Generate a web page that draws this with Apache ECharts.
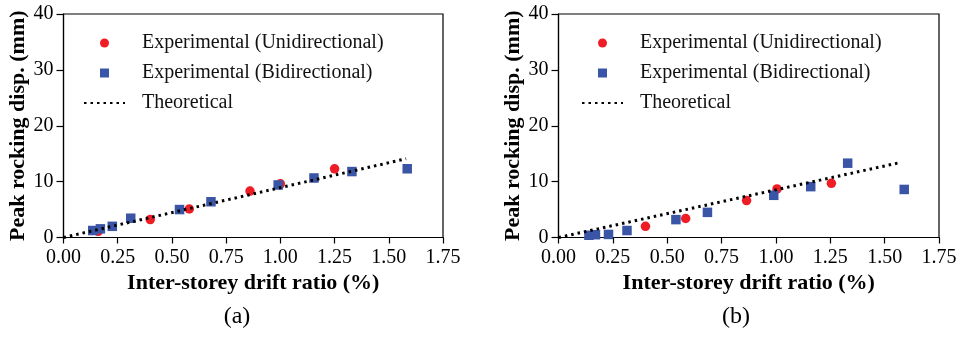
<!DOCTYPE html>
<html>
<head>
<meta charset="utf-8">
<script src="https://cdn.jsdelivr.net/npm/echarts@6/dist/echarts.min.js"></script>
<style>
  html, body { margin: 0; padding: 0; background: #fff; }
  #chart { width: 965px; height: 337px; }
</style>
</head>
<body>
<div id="chart"></div>
<script>
// ticks
const xTicks = [0, 0.25, 0.5, 0.75, 1.0, 1.25, 1.5, 1.75];
const yTicks = [0, 10, 20, 30, 40];

// panel (a)
const uniA_x = [0.16, 0.40, 0.58, 0.86, 1.00, 1.25];
const uniA_y = [1.1, 3.2, 5.1, 8.3, 9.6, 12.3];
const biA_x = [0.135, 0.17, 0.225, 0.31, 0.535, 0.68, 0.99, 1.155, 1.33, 1.585];
const biA_y = [1.25, 1.55, 2.0, 3.45, 5.0, 6.4, 9.4, 10.65, 11.8, 12.3];
const theoA_x = [0, 1.58];
const theoA_y = [0, 14.1];

// panel (b)
const uniB_x = [0.40, 0.585, 0.865, 1.005, 1.255];
const uniB_y = [2.0, 3.4, 6.6, 8.7, 9.7];
const biB_x = [0.14, 0.17, 0.23, 0.315, 0.54, 0.685, 0.99, 1.16, 1.33, 1.59];
const biB_y = [0.4, 0.5, 0.55, 1.25, 3.2, 4.5, 7.55, 9.1, 13.3, 8.6];
const theoB_x = [0, 1.57];
const theoB_y = [0, 13.4];

const NAMES = ['Experimental (Unidirectional)', 'Experimental (Bidirectional)', 'Theoretical'];
const RED = '#ee1d25';
const BLUE = '#3a55a6';
const FONT = '"Liberation Serif", "Times New Roman", serif';
const SQUARE = 'path://M0,0L10,0L10,10L0,10Z';

const zip = (xs, ys) => xs.map((x, i) => [x, ys[i]]);

// 坐标轴公共样式
const xAxisOf = (gi) => ({
  type: 'value', gridIndex: gi,
  min: xTicks[0], max: xTicks[xTicks.length - 1], interval: 0.25,
  name: 'Inter-storey drift ratio (%)', nameLocation: 'middle', nameGap: 31,
  nameTextStyle: { fontFamily: FONT, fontWeight: 'bold', fontSize: 22, color: '#000' },
  axisLine: { lineStyle: { color: '#000', width: 1.2 } },
  axisTick: { inside: false, length: 6, lineStyle: { color: '#000', width: 1.2 } },
  axisLabel: { fontFamily: FONT, fontSize: 20, color: '#000', margin: 10,
    formatter: (v) => v.toFixed(2) },
  splitLine: { show: false },
});
const yAxisOf = (gi) => ({
  type: 'value', gridIndex: gi,
  min: yTicks[0], max: yTicks[yTicks.length - 1], interval: 10,
  name: 'Peak rocking disp. (mm)', nameLocation: 'middle', nameGap: 33,
  nameTextStyle: { fontFamily: FONT, fontWeight: 'bold', fontSize: 22, color: '#000' },
  axisLine: { lineStyle: { color: '#000', width: 1.2 } },
  axisTick: { inside: false, length: 7, lineStyle: { color: '#000', width: 1.2 } },
  axisLabel: { fontFamily: FONT, fontSize: 20, color: '#000', margin: 10 },
  splitLine: { show: false },
});

const seriesOf = (gi, ux, uy, bx, by, tx, ty) => [
  { name: NAMES[0], type: 'scatter', xAxisIndex: gi, yAxisIndex: gi,
    symbol: 'circle', symbolSize: 9.5, itemStyle: { color: RED, opacity: 1 }, data: zip(ux, uy) },
  { name: NAMES[1], type: 'scatter', xAxisIndex: gi, yAxisIndex: gi,
    symbol: 'rect', symbolSize: 9.5, itemStyle: { color: BLUE, opacity: 1 }, data: zip(bx, by) },
  { name: NAMES[2], type: 'line', xAxisIndex: gi, yAxisIndex: gi,
    symbol: 'none', itemStyle: { color: '#000' },
    lineStyle: { color: '#000', width: 3, type: [2.5, 4] }, data: zip(tx, ty) },
];

const legendOf = (left) => ({
  orient: 'vertical', left: left, top: 33, padding: 0,
  itemWidth: 41, itemHeight: 9, itemGap: 10,
  selectedMode: false,
  textStyle: { fontFamily: FONT, fontSize: 20, color: '#111', lineHeight: 20, padding: [0, 0, 0, 12] },
  data: [
    { name: NAMES[0], icon: 'circle' },
    { name: NAMES[1], icon: SQUARE },
    { name: NAMES[2], itemStyle: { opacity: 0 } },
  ],
});

const chart = echarts.init(document.getElementById('chart'), null, { renderer: 'canvas' });
chart.setOption({
  animation: false,
  backgroundColor: '#fff',
  grid: [
    { left: 63.5, right: 965 - 443, top: 14, bottom: 337 - 237.5, show: true, borderColor: '#000', borderWidth: 1.2 },
    { left: 558.5, right: 965 - 939, top: 14, bottom: 337 - 237.5, show: true, borderColor: '#000', borderWidth: 1.2 },
  ],
  legend: [legendOf(83), legendOf(581)],
  xAxis: [xAxisOf(0), xAxisOf(1)],
  yAxis: [yAxisOf(0), yAxisOf(1)],
  series: [
    ...seriesOf(0, uniA_x, uniA_y, biA_x, biA_y, theoA_x, theoA_y),
    ...seriesOf(1, uniB_x, uniB_y, biB_x, biB_y, theoB_x, theoB_y),
  ],
  graphic: [
    { type: 'text', x: 237, y: 317, style: { text: '(a)', fontFamily: FONT, fontSize: 24, fill: '#000', align: 'center', verticalAlign: 'middle' } },
    { type: 'text', x: 736, y: 317, style: { text: '(b)', fontFamily: FONT, fontSize: 24, fill: '#000', align: 'center', verticalAlign: 'middle' } },
  ],
});
</script>
</body>
</html>
